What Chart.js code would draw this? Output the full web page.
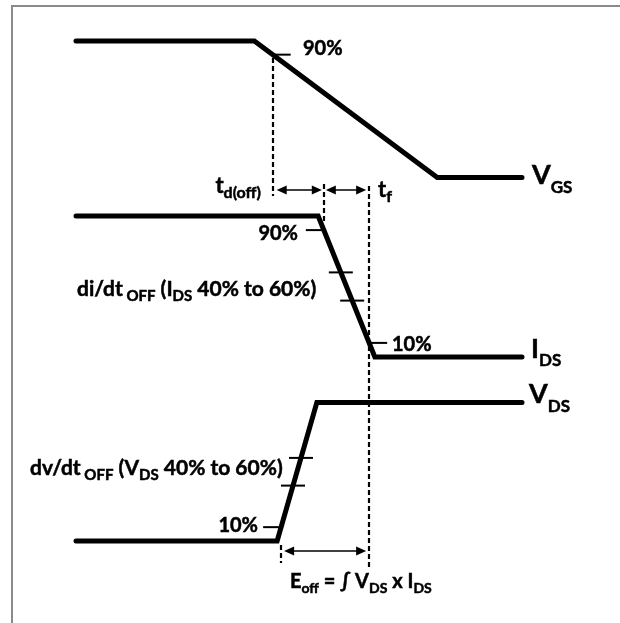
<!DOCTYPE html>
<html>
<head>
<meta charset="utf-8">
<script src="https://cdn.jsdelivr.net/npm/chart.js@4"></script>
<style>
  html, body { margin: 0; padding: 0; background: #fff; }
  #wrap { position: relative; width: 620px; height: 623px; }
  #frame { position: absolute; left: 11px; top: 5px; right: 0; bottom: 0;
           border-top: 2px solid #8a8a8a; border-left: 2px solid #8a8a8a; }
  canvas { position: absolute; left: 0; top: 0; }
</style>
</head>
<body>
<div id="wrap">
  <div id="frame"></div>
  <canvas id="switchChart" width="620" height="623"></canvas>
</div>
<script>
// waveform corners: time (arbitrary units, 0..100) and level (% of swing)
const vgsTime  = [0, 40, 81, 100];
const vgsLevel = [100, 100, 0, 0];
const idsTime  = [0, 54.3, 67.0, 100];
const idsLevel = [100, 100, 0, 0];
const vdsTime  = [0, 45.1, 54.0, 100];
const vdsLevel = [0, 0, 100, 100];

// percent marks on the edges
const vgsMarks = [90];
const idsMarks = [90, 60, 40, 10];
const vdsMarks = [10, 60, 40];

const traceNames = ['VGS', 'IDS', 'VDS'];

// layout: where 100% and 0% of each trace sit on the page (px)
const bands = {
  yVgs: { top: 41, bottom: 177.5 },
  yIds: { top: 216, bottom: 357 },
  yVds: { top: 402.5, bottom: 541 }
};
const PAGE_H = 623;
const X_LEFT = 76, X_PER_UNIT = 4.46;

function bandAxis(b) {
  const range = 100 * PAGE_H / (b.bottom - b.top);
  const max = b.bottom * range / PAGE_H;
  return { type: 'linear', display: false, min: max - range, max: max };
}

function pts(t, l) {
  return t.map((v, i) => ({ x: v, y: l[i] }));
}

// time where a trace crosses a level on its edge
function crossTime(t, l, level) {
  for (let i = 0; i < t.length - 1; i++) {
    const a = l[i], b = l[i + 1];
    if (a !== b && (level - a) * (level - b) <= 0) {
      return t[i] + (level - a) / (b - a) * (t[i + 1] - t[i]);
    }
  }
  return null;
}

const FONT = 'Lato, "Open Sans", "DejaVu Sans", sans-serif';

// draw text with subscripts: parts = [[text, isSub], ...]
function richText(ctx, x, y, parts, size, subSize, subDrop, align) {
  ctx.save();
  ctx.textBaseline = 'alphabetic';
  ctx.textAlign = 'left';
  ctx.lineWidth = 0.5;
  let w = 0;
  parts.forEach(p => {
    ctx.font = 'bold ' + (p[1] ? subSize : size) + 'px ' + FONT;
    w += ctx.measureText(p[0]).width;
  });
  let cx = align === 'right' ? x - w : x;
  parts.forEach(p => {
    ctx.font = 'bold ' + (p[1] ? subSize : size) + 'px ' + FONT;
    const ty = p[1] ? y + subDrop : y;
    ctx.fillText(p[0], cx, ty);
    ctx.strokeText(p[0], cx, ty);
    cx += ctx.measureText(p[0]).width;
  });
  ctx.restore();
}

function arrowHead(ctx, x, y, dir) {
  ctx.beginPath();
  ctx.moveTo(x, y);
  ctx.lineTo(x - dir * 10, y - 4.5);
  ctx.lineTo(x - dir * 10, y + 4.5);
  ctx.closePath();
  ctx.fill();
}

function doubleArrow(ctx, x1, x2, y) {
  ctx.beginPath();
  ctx.moveTo(x1 + 4, y);
  ctx.lineTo(x2 - 4, y);
  ctx.stroke();
  arrowHead(ctx, x1, y, -1);
  arrowHead(ctx, x2, y, 1);
}

const annotations = {
  id: 'annotations',
  afterDatasetsDraw(chart) {
    const ctx = chart.ctx;
    const xs = chart.scales.x;
    const sets = [
      { axis: chart.scales.yVgs, t: vgsTime, l: vgsLevel },
      { axis: chart.scales.yIds, t: idsTime, l: idsLevel },
      { axis: chart.scales.yVds, t: vdsTime, l: vdsLevel }
    ];
    ctx.save();
    ctx.fillStyle = '#000';
    ctx.strokeStyle = '#000';

    // percent tick marks
    ctx.lineWidth = 2;
    const tick = (s, level, side) => {
      const px = xs.getPixelForValue(crossTime(s.t, s.l, level));
      const py = s.axis.getPixelForValue(level);
      let a, b;
      if (side === 'right') { a = px; b = px + 18; }
      else if (side === 'left') { a = px - 18; b = px - 2; }
      else { a = px - 12; b = px + 12; }
      ctx.beginPath(); ctx.moveTo(a, py); ctx.lineTo(b, py); ctx.stroke();
    };
    vgsMarks.forEach(m => tick(sets[0], m, 'right'));
    tick(sets[1], idsMarks[0], 'left');
    tick(sets[1], idsMarks[1], 'center');
    tick(sets[1], idsMarks[2], 'center');
    tick(sets[1], idsMarks[3], 'right');
    tick(sets[2], vdsMarks[0], 'left');
    tick(sets[2], vdsMarks[1], 'center');
    tick(sets[2], vdsMarks[2], 'center');

    // timing markers
    const tdX = xs.getPixelForValue(crossTime(vgsTime, vgsLevel, 90));
    const tfX = xs.getPixelForValue(crossTime(idsTime, idsLevel, 90));
    const tfEndX = xs.getPixelForValue(crossTime(idsTime, idsLevel, 10));
    const eX = xs.getPixelForValue(crossTime(vdsTime, vdsLevel, 10));

    ctx.lineWidth = 2.2;
    ctx.setLineDash([5, 3]);
    const vline = (x, y1, y2) => {
      ctx.beginPath(); ctx.moveTo(Math.round(x), y1); ctx.lineTo(Math.round(x), y2); ctx.stroke();
    };
    vline(tdX, 58, 196);
    vline(tfX, 184, 222);
    vline(tfEndX, 186, 567);
    vline(eX, 545, 563);
    ctx.setLineDash([]);

    ctx.lineWidth = 1.4;
    doubleArrow(ctx, tdX + 4, tfX - 2, 190);
    doubleArrow(ctx, tfX + 2, tfEndX - 3, 190);
    doubleArrow(ctx, eX + 3, tfEndX - 3, 551);

    // labels
    richText(ctx, 303, 55, [['90%', false]], 20, 14, 5, 'left');
    richText(ctx, 298, 240, [['90%', false]], 20, 14, 5, 'right');
    richText(ctx, 392, 351, [['10%', false]], 20, 14, 5, 'left');
    richText(ctx, 258, 532, [['10%', false]], 20, 14, 5, 'right');
    richText(ctx, 77, 296, [['di/dt', false], [' OFF', true], [' (I', false], ['DS', true], [' 40% to 60%)', false]], 21, 15, 5, 'left');
    richText(ctx, 30, 475, [['dv/dt', false], [' OFF', true], [' (V', false], ['DS', true], [' 40% to 60%)', false]], 21, 15, 5, 'left');
    richText(ctx, 290, 588, [['E', false], ['off', true], [' = \u222B V', false], ['DS', true], [' x I', false], ['DS', true]], 20, 14, 5, 'left');
    richText(ctx, 261, 193, [['t', false], ['d(off)', true]], 22, 16, 5, 'right');
    richText(ctx, 378, 197, [['t', false], ['f', true]], 22, 16, 5, 'left');

    richText(ctx, 532, 184, [['V', false], [traceNames[0].slice(1), true]], 27, 17, 9, 'left');
    richText(ctx, 531, 358, [['I', false], [traceNames[1].slice(1), true]], 27, 17, 8, 'left');
    richText(ctx, 529, 403, [['V', false], [traceNames[2].slice(1), true]], 27, 17, 9, 'left');
    ctx.restore();
  }
};

const lineStyle = {
  borderColor: '#000',
  borderWidth: 5,
  borderCapStyle: 'round',
  borderJoinStyle: 'miter',
  pointRadius: 0,
  fill: false,
  tension: 0
};

new Chart(document.getElementById('switchChart'), {
  type: 'line',
  data: {
    datasets: [
      Object.assign({ label: traceNames[0], data: pts(vgsTime, vgsLevel), yAxisID: 'yVgs' }, lineStyle),
      Object.assign({ label: traceNames[1], data: pts(idsTime, idsLevel), yAxisID: 'yIds' }, lineStyle),
      Object.assign({ label: traceNames[2], data: pts(vdsTime, vdsLevel), yAxisID: 'yVds' }, lineStyle)
    ]
  },
  options: {
    responsive: false,
    animation: false,
    layout: { padding: 0 },
    plugins: { legend: { display: false }, tooltip: { enabled: false } },
    scales: {
      x: { type: 'linear', display: false, min: -X_LEFT / X_PER_UNIT, max: (620 - X_LEFT) / X_PER_UNIT },
      yVgs: bandAxis(bands.yVgs),
      yIds: bandAxis(bands.yIds),
      yVds: bandAxis(bands.yVds)
    }
  },
  plugins: [annotations]
});
</script>
</body>
</html>
